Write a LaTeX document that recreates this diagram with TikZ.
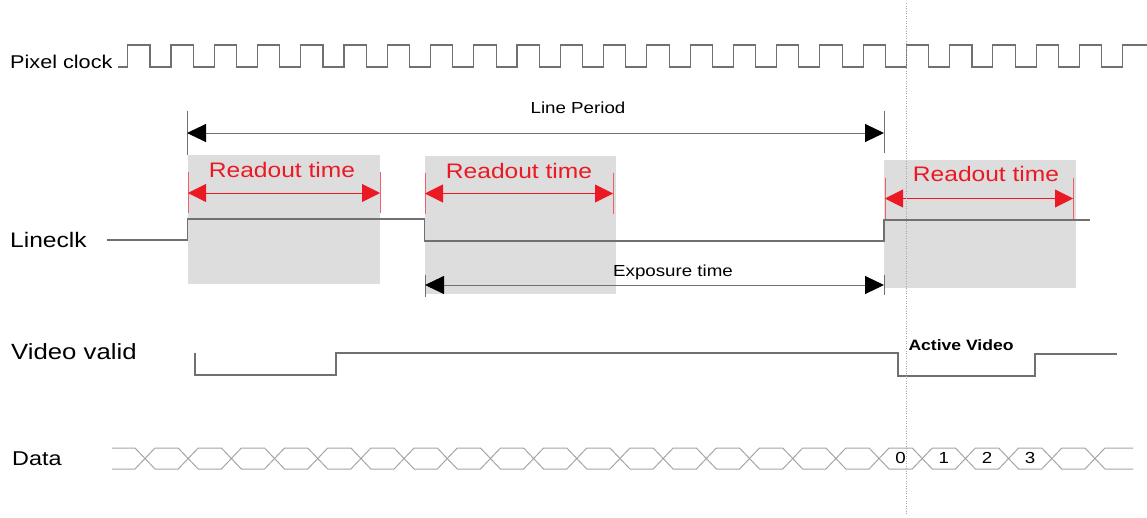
\documentclass[tikz,border=0pt]{standalone}
\usepackage{fontspec}
\setmainfont{Liberation Sans}[FakeStretch=1.17]
\usetikzlibrary{arrows.meta}

\definecolor{boxGray}{RGB}{221,221,221}
\definecolor{waveGray}{RGB}{112,112,112}
\definecolor{busGray}{RGB}{165,165,165}
\definecolor{readRed}{RGB}{235,25,35}

\tikzset{
	wave/.style={draw=waveGray, line width=1.1pt},
	bus/.style={draw=busGray, line width=1pt},
	tick/.style={draw=waveGray, line width=0.9pt},
	redTick/.style={draw=readRed!70, line width=0.7pt},
	timeArrow/.style={draw=waveGray, line width=1pt,
		{Triangle[length=19pt,width=18pt,color=black]}-{Triangle[length=19pt,width=18pt,color=black]}},
	readArrow/.style={draw=readRed, line width=0.8pt,
		{Triangle[length=18pt,width=18pt,color=readRed]}-{Triangle[length=18pt,width=18pt,color=readRed]}},
	sigName/.style={anchor=base west, inner sep=0pt},
	smallText/.style={anchor=base, inner sep=0pt, font=\fontsize{16}{16}\selectfont},
	readText/.style={anchor=base, inner sep=0pt, text=readRed, font=\fontsize{21}{21}\selectfont}
}

\begin{document}
\begin{tikzpicture}[x=1pt, y=-1pt]
		
		\useasboundingbox (0,0) rectangle (1147,517);
		
		%Readout windows
		\fill[boxGray] (188,155) rectangle (380,284);
		\fill[boxGray] (425,156) rectangle (616,294);
		\fill[boxGray] (884,160) rectangle (1076,288);
		
		%Signal names
		\node (pixelClockName) at (10,68) [sigName, font=\fontsize{18.5}{18.5}\selectfont]{Pixel clock};
		\node (lineclkName) at (10,247.5) [sigName, font=\fontsize{21}{21}\selectfont]{Lineclk};
		\node (videoValidName) at (11,359.5) [sigName, font=\fontsize{22}{22}\selectfont]{Video valid};
		\node (dataName) at (12,465) [sigName, font=\fontsize{20}{20}\selectfont]{Data};
		
		%Pixel clock
		\draw[wave] (118,67) foreach \k in {0,...,22} {
			-- ({127.7+\k*43.26},67) -- ++(0,-22) -- ++(22.3,0) -- ++(0,22)
		} -- (1122.7,67) -- (1122.7,45) -- (1147,45);
		
		%Line period
		\coordinate (periodStart) at (187,133);
		\coordinate (periodEnd) at (884,133);
		\draw[tick] (periodStart) ++(0,-22) -- ++(0,44);
		\draw[tick] (periodEnd) ++(0,-22) -- ++(0,42);
		\draw[timeArrow] (periodStart) -- (periodEnd);
		\node (periodText) at (578,113) [smallText]{Line Period};
		
		%Lineclk
		\draw[wave] (107,240) -- (187.5,240) -- (187.5,219) -- (424.5,219) -- (424.5,241)
			-- (884,241) -- (884,220) -- (1090,220);
		
		%Readout time arrows
		\coordinate (readOneStart) at (188,193);
		\coordinate (readOneEnd) at (380,193);
		\coordinate (readTwoStart) at (425,193.5);
		\coordinate (readTwoEnd) at (613,193.5);
		\coordinate (readThreeStart) at (885,198.5);
		\coordinate (readThreeEnd) at (1073,198.5);
		
		\foreach \r in {readOneStart,readOneEnd,readTwoStart,readTwoEnd,readThreeStart,readThreeEnd}
			\draw[redTick] (\r) ++(0,-21) -- ++(0,41);
		
		\draw[readArrow] (readOneStart) -- (readOneEnd);
		\draw[readArrow] (readTwoStart) -- (readTwoEnd);
		\draw[readArrow] (readThreeStart) -- (readThreeEnd);
		
		\node (readOneText) at (282,177) [readText]{Readout time};
		\node (readTwoText) at (519,178.5) [readText]{Readout time};
		\node (readThreeText) at (986,181.5) [readText]{Readout time};
		
		%Exposure time
		\coordinate (exposureStart) at (425,285);
		\coordinate (exposureEnd) at (884,285);
		\draw[tick] (exposureStart) ++(0,-10) -- ++(0,22);
		\draw[tick] (exposureEnd) ++(0,-10) -- ++(0,20);
		\draw[timeArrow] (exposureStart) -- (exposureEnd);
		\node (exposureText) at (673,276.5) [smallText]{Exposure time};
		
		%Video valid
		\draw[wave] (195,353) -- (195,375) -- (336,375) -- (336,353) -- (898,353) -- (898,376)
			-- (1035,376) -- (1035,354) -- (1117,354);
		\node (activeVideoText) at (961,350) [smallText, font=\bfseries\fontsize{15}{15}\selectfont]{Active Video};
		
		%Data bus
		\draw[bus] (112,448) foreach \k in {0,...,22} {
			-- ({135+\k*43.18},448) -- ({145+\k*43.18},458.5) -- ({155+\k*43.18},448)
		} -- (1133,448);
		\draw[bus] (112,469) foreach \k in {0,...,22} {
			-- ({135+\k*43.18},469) -- ({145+\k*43.18},458.5) -- ({155+\k*43.18},469)
		} -- (1133,469);
		\foreach \d in {0,...,3}
			\node (data\d) at ({900.6+\d*43.18},463.5) [smallText]{\d};
		
		%Start of active line
		\draw[gray!70, line width=0.9pt, dash pattern=on 1pt off 1.5pt] (906,3) -- (906,514);
		
		\end{tikzpicture}
\end{document}
